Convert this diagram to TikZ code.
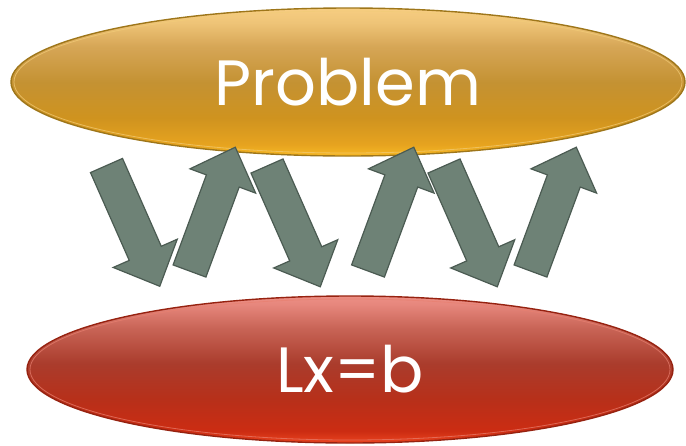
\documentclass[tikz,border=0pt]{standalone}
\usepackage{fontspec}
\setmainfont{Poppins}
\usetikzlibrary{shapes.geometric}
\definecolor{goldA}{HTML}{F7B824}
\definecolor{goldB}{HTML}{E6A31F}
\definecolor{goldC}{HTML}{CF931F}
\definecolor{goldD}{HTML}{C49233}
\definecolor{goldE}{HTML}{D6A656}
\definecolor{goldF}{HTML}{EEC477}
\definecolor{goldG}{HTML}{F7CD82}
\definecolor{goldline}{HTML}{9E761A}
\definecolor{goldglow}{HTML}{F2CC78}
\definecolor{redA}{HTML}{EA4420}
\definecolor{redB}{HTML}{CC2C12}
\definecolor{redC}{HTML}{B7301A}
\definecolor{redD}{HTML}{AA3C2C}
\definecolor{redE}{HTML}{C86456}
\definecolor{redF}{HTML}{E6867C}
\definecolor{redG}{HTML}{EC8F85}
\definecolor{redline}{HTML}{962210}
\definecolor{redglow}{HTML}{E88070}
\definecolor{arrowfill}{HTML}{6E8276}
\definecolor{arrowline}{HTML}{4B5B52}
\pgfdeclareverticalshading{goldsh}{100bp}{color(0bp)=(goldA); color(25bp)=(goldA); color(29bp)=(goldB); color(38bp)=(goldC); color(50bp)=(goldD); color(62bp)=(goldE); color(70bp)=(goldF); color(75bp)=(goldG); color(100bp)=(goldG)}
\pgfdeclareverticalshading{redsh}{100bp}{color(0bp)=(redA); color(25bp)=(redA); color(29bp)=(redB); color(40bp)=(redC); color(52bp)=(redD); color(64bp)=(redE); color(72bp)=(redF); color(75bp)=(redG); color(100bp)=(redG)}
\tikzset{
  blob/.style={ellipse, inner sep=0pt, line width=1.4pt, text=white,
    font=\fontsize{64}{64}\selectfont},
  arrowstyle/.style={fill=arrowfill, draw=arrowline, line width=1.2pt, line join=miter},
  blockarr/.pic={\draw[arrowstyle] (0,-17.5) -- (96,-17.5) -- (96,-35) -- (132,0) -- (96,35) -- (96,17.5) -- (0,17.5) -- cycle;}
}
\begin{document}
\begin{tikzpicture}[x=1pt,y=-1pt]
\useasboundingbox (0,0) rectangle (686,445);
\node[blob, draw=goldline, shading=goldsh, minimum width=674pt, minimum height=148pt] (problem) at (348,82) {Problem};
\draw[goldglow, line width=0.8pt, opacity=0.7] (problem.center) ellipse [x radius=334pt, y radius=71pt];
\node[blob, draw=redline, shading=redsh, minimum width=646pt, minimum height=147pt] (lxb) at (350,369.5) {Lx=b};
\draw[redglow, line width=0.8pt, opacity=0.7] (lxb.center) ellipse [x radius=320pt, y radius=70.5pt];
\pic[rotate=-66.2] at (106.5,165.5) {blockarr};
\pic[rotate=69.7] at (189.5,271) {blockarr};
\pic[rotate=-66.2] at (267,166) {blockarr};
\pic[rotate=69.7] at (368,271) {blockarr};
\pic[rotate=-66.2] at (444,166) {blockarr};
\pic[rotate=69.7] at (530.5,271) {blockarr};
\end{tikzpicture}
\end{document}
